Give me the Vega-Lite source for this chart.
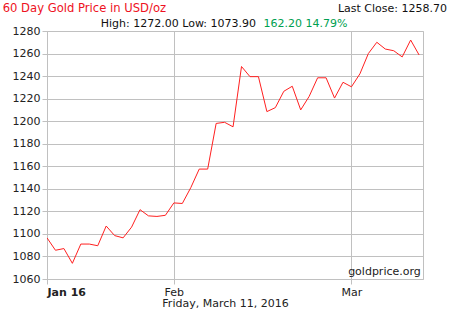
{
  "$schema": "https://vega.github.io/schema/vega-lite/v6.json",
  "width": 376,
  "height": 248,
  "autosize": {"type": "none"},
  "padding": {"left": 47, "top": 31, "right": 27, "bottom": 32},
  "background": "white",
  "config": {
    "font": "DejaVu Sans",
    "view": {"stroke": "#c0c0c0", "strokeWidth": 1},
    "text": {"fontWeight": "normal", "font": "DejaVu Sans", "fontSize": 11},
    "axis": {"gridColor": "#c0c0c0", "tickColor": "#c0c0c0", "domain": false, "labelFont": "DejaVu Sans", "labelFontSize": 11, "labelColor": "#222", "tickSize": 5, "labelPadding": 2, "gridOpacity": 1, "labelOverlap": false}
  },
  "layer": [
    {
      "data": {"values": [
        {"i": 0, "date": "2016-01-11", "price": 1096.5},
        {"i": 1, "date": "2016-01-12", "price": 1085.5},
        {"i": 2, "date": "2016-01-13", "price": 1087.0},
        {"i": 3, "date": "2016-01-14", "price": 1073.9},
        {"i": 4, "date": "2016-01-15", "price": 1091.0},
        {"i": 5, "date": "2016-01-18", "price": 1091.0},
        {"i": 6, "date": "2016-01-19", "price": 1089.5},
        {"i": 7, "date": "2016-01-20", "price": 1107.0},
        {"i": 8, "date": "2016-01-21", "price": 1098.5},
        {"i": 9, "date": "2016-01-22", "price": 1096.5},
        {"i": 10, "date": "2016-01-25", "price": 1106.0},
        {"i": 11, "date": "2016-01-26", "price": 1121.5},
        {"i": 12, "date": "2016-01-27", "price": 1116.0},
        {"i": 13, "date": "2016-01-28", "price": 1115.5},
        {"i": 14, "date": "2016-01-29", "price": 1116.5},
        {"i": 15, "date": "2016-02-01", "price": 1127.5},
        {"i": 16, "date": "2016-02-02", "price": 1127.0},
        {"i": 17, "date": "2016-02-03", "price": 1141.0},
        {"i": 18, "date": "2016-02-04", "price": 1157.5},
        {"i": 19, "date": "2016-02-05", "price": 1157.5},
        {"i": 20, "date": "2016-02-08", "price": 1198.0},
        {"i": 21, "date": "2016-02-09", "price": 1199.0},
        {"i": 22, "date": "2016-02-10", "price": 1195.0},
        {"i": 23, "date": "2016-02-11", "price": 1248.5},
        {"i": 24, "date": "2016-02-12", "price": 1239.5},
        {"i": 25, "date": "2016-02-15", "price": 1239.5},
        {"i": 26, "date": "2016-02-16", "price": 1208.5},
        {"i": 27, "date": "2016-02-17", "price": 1212.0},
        {"i": 28, "date": "2016-02-18", "price": 1226.5},
        {"i": 29, "date": "2016-02-19", "price": 1231.0},
        {"i": 30, "date": "2016-02-22", "price": 1210.0},
        {"i": 31, "date": "2016-02-23", "price": 1222.0},
        {"i": 32, "date": "2016-02-24", "price": 1238.5},
        {"i": 33, "date": "2016-02-25", "price": 1238.5},
        {"i": 34, "date": "2016-02-26", "price": 1220.5},
        {"i": 35, "date": "2016-02-29", "price": 1234.5},
        {"i": 36, "date": "2016-03-01", "price": 1230.5},
        {"i": 37, "date": "2016-03-02", "price": 1242.0},
        {"i": 38, "date": "2016-03-03", "price": 1260.0},
        {"i": 39, "date": "2016-03-04", "price": 1270.0},
        {"i": 40, "date": "2016-03-07", "price": 1264.0},
        {"i": 41, "date": "2016-03-08", "price": 1262.5},
        {"i": 42, "date": "2016-03-09", "price": 1257.0},
        {"i": 43, "date": "2016-03-10", "price": 1272.0},
        {"i": 44, "date": "2016-03-11", "price": 1258.7}
      ]},
      "mark": {"type": "line", "color": "#ff2020", "strokeWidth": 1, "clip": true},
      "encoding": {
        "x": {"field": "i", "type": "quantitative", "scale": {"domain": [0, 44.46], "nice": false, "zero": false},
              "axis": {"values": [0, 15, 36], "tickCount": 10, "grid": true, "labelOverlap": false, "title": "Friday, March 11, 2016", "titleFont": "DejaVu Sans", "titleFontSize": 11, "titleFontWeight": "normal", "titleColor": "#222", "titleX": 178, "titleY": 27.5, "titleAlign": "center", "titleBaseline": "alphabetic",
                       "labelExpr": "datum.value == 0 ? 'Jan 16' : (datum.value == 15 ? 'Feb' : 'Mar')",
                       "labelFontWeight": {"expr": "datum.value == 0 ? 'bold' : 'normal'"}}},
        "y": {"field": "price", "type": "quantitative", "scale": {"domain": [1060, 1280], "nice": false, "zero": false},
              "axis": {"values": [1060, 1080, 1100, 1120, 1140, 1160, 1180, 1200, 1220, 1240, 1260, 1280], "tickCount": 20, "labelOverlap": false, "format": "d", "grid": true, "title": null}}
      }
    },
    {
      "data": {"values": [{}]},
      "mark": {"type": "text", "text": "60 Day Gold Price in USD/oz", "align": "left", "baseline": "alphabetic", "color": "#ee1122", "fontSize": 11.6, "fontWeight": "normal"},
      "encoding": {"x": {"datum": -5.24, "type": "quantitative"}, "y": {"datum": 1297, "type": "quantitative"}}
    },
    {
      "data": {"values": [{}]},
      "mark": {"type": "text", "text": "Last Close: 1258.70", "align": "right", "baseline": "alphabetic", "color": "#111", "fontSize": 11, "fontWeight": "normal"},
      "encoding": {"x": {"datum": 47.3, "type": "quantitative"}, "y": {"datum": 1297, "type": "quantitative"}}
    },
    {
      "data": {"values": [{}]},
      "mark": {"type": "text", "text": "High: 1272.00 Low: 1073.90", "align": "left", "baseline": "alphabetic", "color": "#111", "fontSize": 11, "fontWeight": "normal"},
      "encoding": {"x": {"datum": 6.36, "type": "quantitative"}, "y": {"datum": 1283.8, "type": "quantitative"}}
    },
    {
      "data": {"values": [{}]},
      "mark": {"type": "text", "text": "162.20 14.79%", "align": "left", "baseline": "alphabetic", "color": "#00a050", "fontSize": 11, "fontWeight": "normal"},
      "encoding": {"x": {"datum": 25.6, "type": "quantitative"}, "y": {"datum": 1283.8, "type": "quantitative"}}
    },
    {
      "data": {"values": [{}]},
      "mark": {"type": "text", "text": "goldprice.org", "align": "right", "baseline": "alphabetic", "color": "#222", "fontSize": 11, "fontWeight": "normal"},
      "encoding": {"x": {"datum": 44.2, "type": "quantitative"}, "y": {"datum": 1063.5, "type": "quantitative"}}
    }
  ]
}
